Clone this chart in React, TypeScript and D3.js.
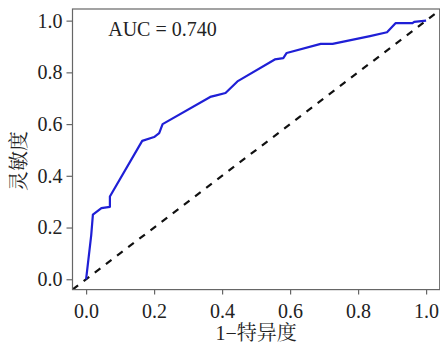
import React, { useRef, useEffect } from "react";
import * as d3 from "d3";

// ROC curve points
const fpr = [0, 0.015, 0.02, 0.045, 0.07, 0.07, 0.165, 0.2, 0.215, 0.225, 0.365, 0.38, 0.41, 0.445, 0.555, 0.58, 0.59, 0.69, 0.725, 0.835, 0.885, 0.91, 0.96, 0.965, 1];
const tpr = [0, 0.17, 0.25, 0.275, 0.28, 0.32, 0.535, 0.55, 0.565, 0.6, 0.705, 0.71, 0.72, 0.765, 0.85, 0.855, 0.875, 0.91, 0.91, 0.94, 0.955, 0.99, 0.99, 0.995, 1];
const ticks = [0, 0.2, 0.4, 0.6, 0.8, 1.0];
const aucLabel = "AUC = 0.740";
const xTitle = "1\u2212特异度";
const yTitle = "灵敏度";

const W = 440;
const H = 346;
const FONT = "'Liberation Serif', 'Times New Roman', 'Noto Serif CJK SC', 'Noto Sans CJK SC', serif";

const App = () => {
  const svgRef = useRef(null);

  useEffect(() => {
    const svg = d3.select(svgRef.current);
    svg.selectAll("*").remove();

    // plot region, R style 4% padding
    const x = d3.scaleLinear().domain([-0.04, 1.04]).range([72.5, 439.7]);
    const y = d3.scaleLinear().domain([-0.04, 1.045]).range([289.6, 9]);

    const clipId = "plotclip";
    svg.append("defs").append("clipPath").attr("id", clipId)
      .append("rect")
      .attr("x", x(-0.04)).attr("y", y(1.045))
      .attr("width", x(1.04) - x(-0.04)).attr("height", y(-0.04) - y(1.045));

    // diagonal reference
    svg.append("line")
      .attr("clip-path", `url(#${clipId})`)
      .attr("x1", x(-0.04)).attr("y1", y(-0.04))
      .attr("x2", x(1.04)).attr("y2", y(1.04))
      .attr("stroke", "#111").attr("stroke-width", 2.2)
      .attr("stroke-dasharray", "7,7");

    // ROC curve
    const pts = fpr.map((v, i) => [v, tpr[i]]);
    const line = d3.line().x(d => x(d[0])).y(d => y(d[1]));
    svg.append("path")
      .datum(pts)
      .attr("d", line)
      .attr("fill", "none")
      .attr("stroke", "#1f1fd6")
      .attr("stroke-width", 2.2)
      .attr("stroke-linejoin", "round");

    // box
    svg.append("rect")
      .attr("x", x(-0.04)).attr("y", y(1.045))
      .attr("width", x(1.04) - x(-0.04)).attr("height", y(-0.04) - y(1.045))
      .attr("fill", "none").attr("stroke", "#666").attr("stroke-width", 1.2);

    // axes
    const xAxis = svg.append("g")
      .attr("transform", `translate(0, ${y(-0.04)})`)
      .call(d3.axisBottom(x).tickValues(ticks).tickSize(5).tickPadding(9).tickFormat(d3.format(".1f")));
    const yAxis = svg.append("g")
      .attr("transform", `translate(${x(-0.04)}, 0)`)
      .call(d3.axisLeft(y).tickValues(ticks).tickSize(6).tickPadding(4).tickFormat(d3.format(".1f")));

    [xAxis, yAxis].forEach(g => {
      g.select(".domain").remove();
      g.selectAll(".tick line").attr("stroke", "#666").attr("stroke-width", 1.2);
      g.selectAll(".tick text")
        .attr("fill", "#222")
        .style("font-family", FONT)
        .style("font-size", "20px");
    });

    // AUC annotation
    svg.append("text")
      .attr("x", x(0.065)).attr("y", y(0.94))
      .attr("fill", "#222")
      .style("font-family", FONT).style("font-size", "20px")
      .text(aucLabel);

    // titles
    svg.append("text")
      .attr("x", (x(-0.04) + x(1.04)) / 2).attr("y", 340)
      .attr("text-anchor", "middle")
      .attr("fill", "#222")
      .style("font-family", FONT).style("font-size", "20px")
      .text(xTitle);

    svg.append("text")
      .attr("transform", `translate(26, 161) rotate(-90)`)
      .attr("text-anchor", "middle")
      .attr("fill", "#222")
      .style("font-family", FONT).style("font-size", "20px")
      .text(yTitle);
  }, []);

  return (
    <svg
      ref={svgRef}
      width={W}
      height={H}
      style={{ position: "absolute", left: 0, top: 0, background: "#fff" }}
    />
  );
};

export default App;
